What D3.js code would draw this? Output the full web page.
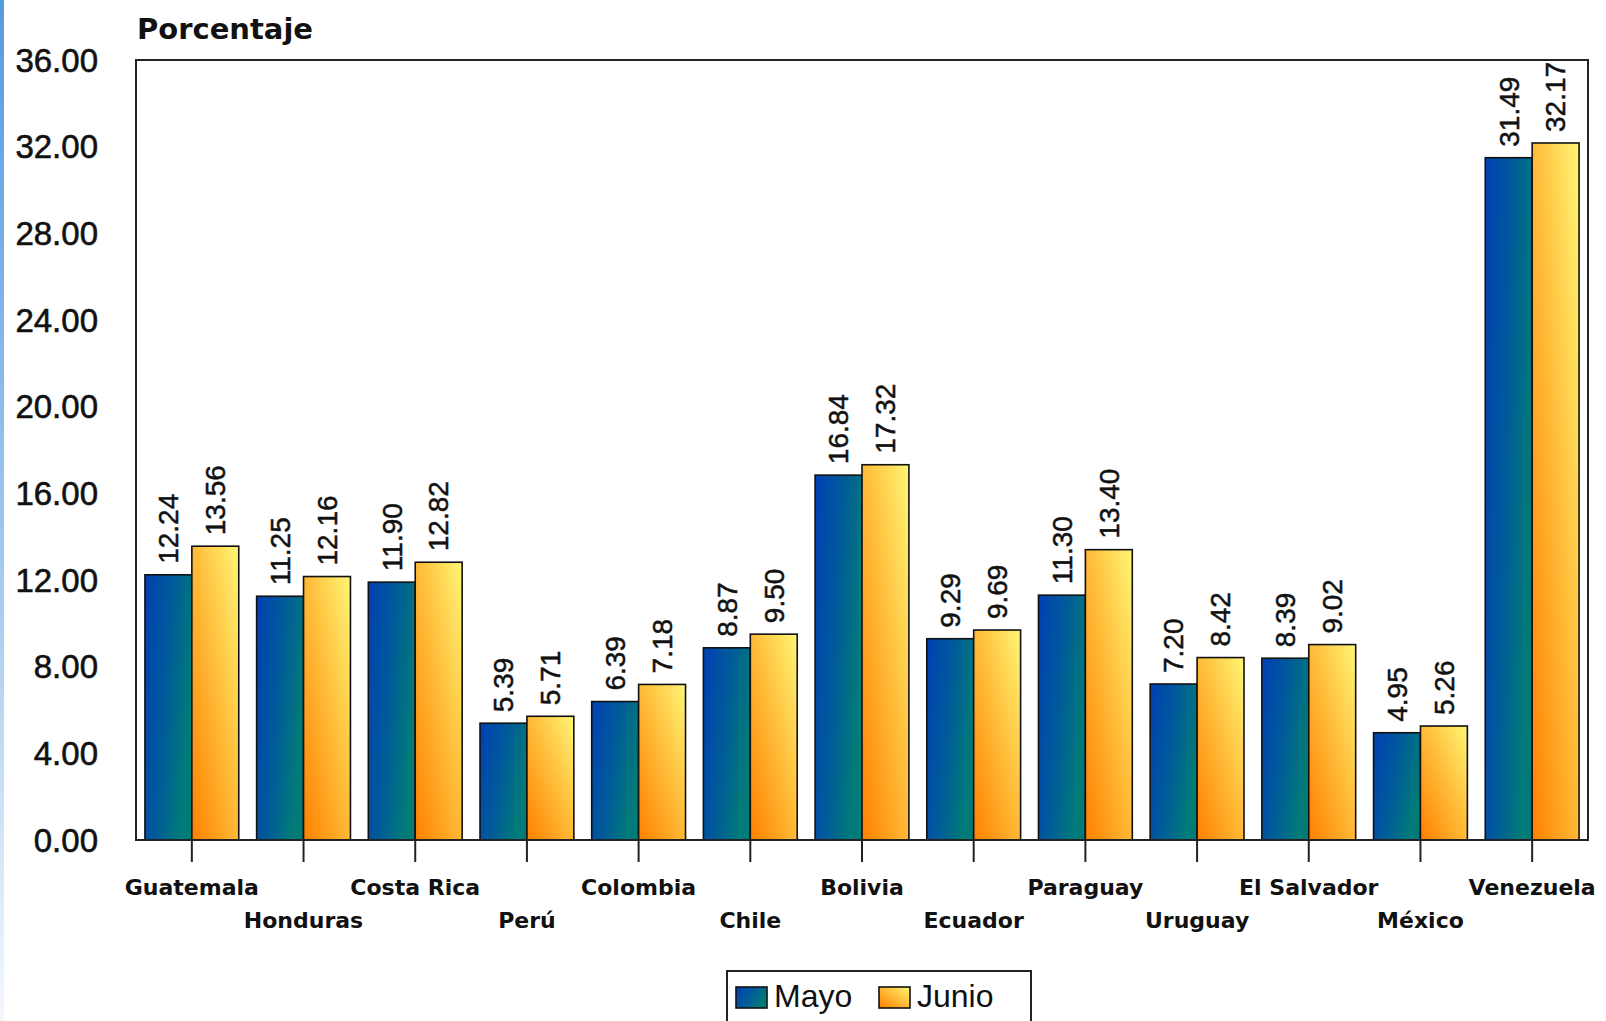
<!DOCTYPE html>
<html>
<head>
<meta charset="utf-8">
<script src="https://cdn.jsdelivr.net/npm/d3@7"></script>
<style>
  body { margin: 0; background: #fff; }
  svg { display: block; }
</style>
</head>
<body>
<svg id="chart"></svg>
<script>
// data
const paises = ['Guatemala', 'Honduras', 'Costa Rica', 'Perú', 'Colombia', 'Chile', 'Bolivia',
  'Ecuador', 'Paraguay', 'Uruguay', 'El Salvador', 'México', 'Venezuela'];
const mayo  = [12.24, 11.25, 11.90, 5.39, 6.39, 8.87, 16.84, 9.29, 11.30, 7.20, 8.39, 4.95, 31.49];
const junio = [13.56, 12.16, 12.82, 5.71, 7.18, 9.50, 17.32, 9.69, 13.40, 8.42, 9.02, 5.26, 32.17];
const series = ['Mayo', 'Junio'];
const yTicks = [0, 4, 8, 12, 16, 20, 24, 28, 32, 36];

const W = 1606, H = 1021;
const margin = {top: 60, right: 18, bottom: 181, left: 136};
const width = W - margin.left - margin.right;
const height = H - margin.top - margin.bottom;

const svg = d3.select('#chart').attr('width', W).attr('height', H);
const defs = svg.append('defs');

// left page stripe
const stripe = defs.append('linearGradient').attr('id', 'stripe')
  .attr('x1', 0).attr('y1', 0).attr('x2', 0).attr('y2', 1);
stripe.append('stop').attr('offset', 0).attr('stop-color', '#559be2');
stripe.append('stop').attr('offset', 0.6).attr('stop-color', '#a9cdf0');
stripe.append('stop').attr('offset', 1).attr('stop-color', '#f4f8fd');
svg.append('rect').attr('x', 0).attr('y', 0).attr('width', 4).attr('height', H).attr('fill', 'url(#stripe)');

// bar gradients
const gMayo = defs.append('linearGradient').attr('id', 'gMayo')
  .attr('x1', 0).attr('y1', 0).attr('x2', 1).attr('y2', 0.4);
gMayo.append('stop').attr('offset', 0).attr('stop-color', '#0040b4');
gMayo.append('stop').attr('offset', 0.55).attr('stop-color', '#005c98');
gMayo.append('stop').attr('offset', 1).attr('stop-color', '#007b78');

const gJunio = defs.append('linearGradient').attr('id', 'gJunio')
  .attr('x1', 1).attr('y1', 0).attr('x2', 0).attr('y2', 1);
gJunio.append('stop').attr('offset', 0).attr('stop-color', '#fff676');
gJunio.append('stop').attr('offset', 0.45).attr('stop-color', '#ffbf3c');
gJunio.append('stop').attr('offset', 1).attr('stop-color', '#ff8000');

const fills = ['url(#gMayo)', 'url(#gJunio)'];

const g = svg.append('g').attr('transform', `translate(${margin.left},${margin.top})`);

const x = d3.scaleBand().domain(paises).range([0, width]).paddingInner(0.16).paddingOuter(0.08);
const xs = d3.scaleBand().domain(series).range([0, x.bandwidth()]);
const y = d3.scaleLinear().domain([0, 36]).range([height, 0]);

// y labels
g.append('g').selectAll('text').data(yTicks).join('text')
  .attr('x', -38).attr('y', d => y(d)).attr('dy', '0.35em')
  .attr('text-anchor', 'end')
  .style('font-family', '"Liberation Sans", Arial, sans-serif')
  .style('font-size', '33px')
  .attr('fill', '#111').attr('stroke', '#111').attr('stroke-width', 0.6)
  .text(d => d.toFixed(2));

// bars
const rows = paises.map((p, i) => ({pais: p, vals: [mayo[i], junio[i]]}));
const grp = g.append('g').selectAll('g').data(rows).join('g')
  .attr('transform', d => `translate(${x(d.pais)},0)`);

grp.selectAll('rect').data(d => d.vals.map((v, j) => ({s: series[j], v, j}))).join('rect')
  .attr('x', d => xs(d.s)).attr('width', xs.bandwidth())
  .attr('y', d => y(d.v)).attr('height', d => height - y(d.v))
  .attr('fill', d => fills[d.j])
  .attr('stroke', '#111').attr('stroke-width', 1.6);

// value labels
grp.selectAll('text').data(d => d.vals.map((v, j) => ({s: series[j], v, j}))).join('text')
  .attr('transform', d => `translate(${xs(d.s) + xs.bandwidth() / 2},${y(d.v) - 11}) rotate(-90)`)
  .attr('dy', '0.35em')
  .attr('text-anchor', 'start')
  .style('font-family', '"Liberation Sans", Arial, sans-serif')
  .style('font-size', '28px')
  .attr('fill', '#111').attr('stroke', '#111').attr('stroke-width', 0.5)
  .text(d => d.v.toFixed(2));

// frame
g.append('rect').attr('x', 0).attr('y', 0).attr('width', width).attr('height', height)
  .attr('fill', 'none').attr('stroke', '#222').attr('stroke-width', 2);

// x axis ticks and labels (staggered on two rows)
const xAxis = g.append('g').attr('transform', `translate(0,${height})`);
xAxis.selectAll('line').data(paises).join('line')
  .attr('x1', d => x(d) + x.bandwidth() / 2).attr('x2', d => x(d) + x.bandwidth() / 2)
  .attr('y1', 0).attr('y2', 22)
  .attr('stroke', '#222').attr('stroke-width', 2);
xAxis.selectAll('text').data(paises).join('text')
  .attr('x', d => x(d) + x.bandwidth() / 2)
  .attr('y', (d, i) => i % 2 === 0 ? 55 : 88)
  .attr('text-anchor', 'middle')
  .style('font-family', '"DejaVu Sans", Verdana, sans-serif')
  .style('font-weight', 'bold')
  .style('font-size', '22px')
  .attr('fill', '#111')
  .text(d => d);

// title
svg.append('text').attr('x', 137).attr('y', 39)
  .style('font-family', '"DejaVu Sans", Verdana, sans-serif')
  .style('font-weight', 'bold')
  .style('font-size', '29px')
  .attr('fill', '#111')
  .text('Porcentaje');

// legend
const leg = svg.append('g');
leg.append('rect').attr('x', 727).attr('y', 971).attr('width', 304).attr('height', 70)
  .attr('fill', '#fff').attr('stroke', '#222').attr('stroke-width', 2);
const legX = [736, 879];
series.forEach((s, j) => {
  leg.append('rect').attr('x', legX[j]).attr('y', 987).attr('width', 31).attr('height', 21)
    .attr('fill', fills[j]).attr('stroke', '#111').attr('stroke-width', 1.6);
  leg.append('text').attr('x', legX[j] + 38).attr('y', 1007)
    .style('font-family', '"Liberation Sans", Arial, sans-serif')
    .style('font-size', '32px')
    .attr('fill', '#111')
    .text(s);
});
</script>
</body>
</html>
